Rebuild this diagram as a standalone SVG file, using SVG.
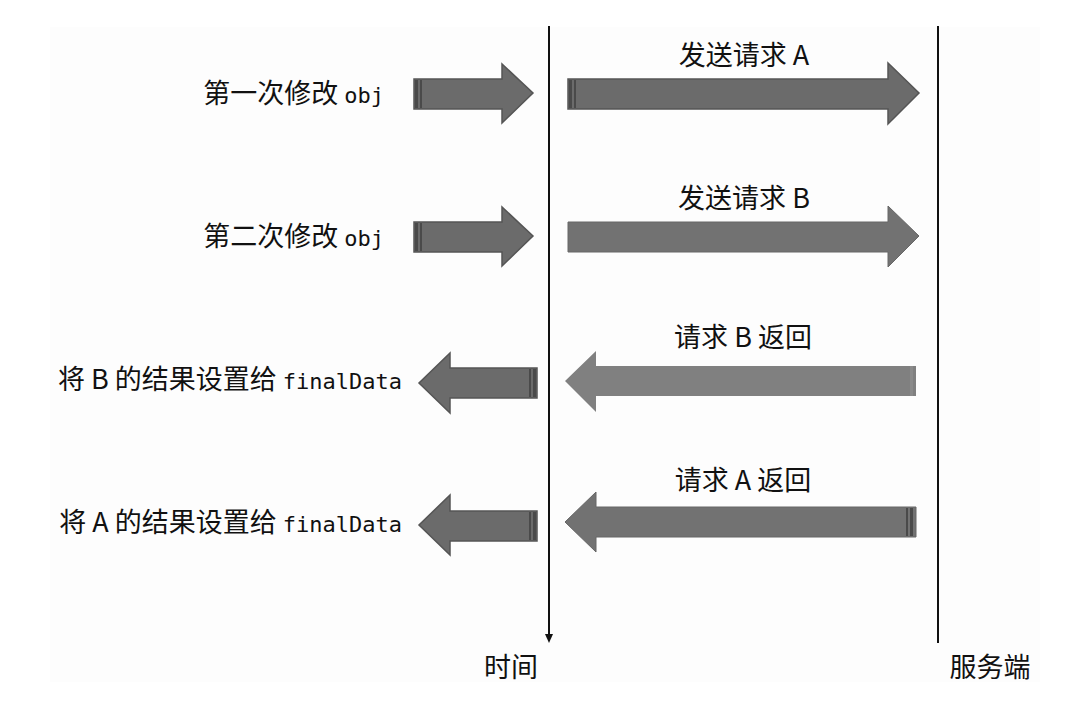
<svg xmlns="http://www.w3.org/2000/svg" width="1086" height="724" viewBox="0 0 1086 724">
<style>
.t{font-family:"Noto Sans CJK SC","Noto Sans",sans-serif;font-size:27px;fill:#111}
.m{font-family:"DejaVu Sans Mono","Liberation Mono",monospace;font-size:22px}
.ar{fill:#6b6b6b;stroke:#555;stroke-width:1.5}
.ar2{fill:#727272;stroke:#666;stroke-width:1}
.ar3{fill:#808080;stroke:none}
.ax{stroke:#111;stroke-width:2;fill:none}
.st{fill:#4a4a4a}
</style>
<rect x="0" y="0" width="1086" height="724" fill="#ffffff"/>
<rect x="50" y="27" width="990" height="655" fill="#fdfdfd"/>
<g id="axes">
  <line class="ax" x1="549" y1="26" x2="549" y2="636"/>
  <polygon points="545,634 553,634 549,643" fill="#111"/>
  <line class="ax" x1="938" y1="26" x2="938" y2="643"/>
  <text class="t" x="511" y="677" text-anchor="middle">时间</text>
  <text class="t" x="990" y="677" text-anchor="middle">服务端</text>
</g>
<g id="connectors">
  <g id="row1-left">
    <polygon class="ar" points="414,79 502,79 502,64 533,93 502,123 502,109 414,109"/>
    <rect class="st" x="415" y="80" width="3" height="28"/><rect class="st" x="420" y="80" width="2" height="28"/>
  </g>
  <g id="row1-right">
    <polygon class="ar" points="568,79 888,79 888,63 919,93 888,124 888,109 568,109"/>
    <rect class="st" x="569" y="80" width="3" height="28"/><rect class="st" x="574" y="80" width="2" height="28"/>
  </g>
  <g id="row2-left">
    <polygon class="ar" points="414,222 502,222 502,207 533,236 502,266 502,252 414,252"/>
    <rect class="st" x="415" y="223" width="3" height="28"/><rect class="st" x="420" y="223" width="2" height="28"/>
  </g>
  <g id="row2-right">
    <polygon class="ar2" points="568,222 888,222 888,206 919,236 888,267 888,252 568,252"/>
  </g>
  <g id="row3-left">
    <polygon class="ar" points="537,368 450,368 450,353 419,383 450,413 450,398 537,398"/>
    <rect class="st" x="529" y="369" width="2" height="28"/><rect class="st" x="533" y="369" width="3" height="28"/>
  </g>
  <g id="row3-right">
    <polygon class="ar3" points="916,366 596,366 596,351 565,381 596,412 596,396 916,396"/>
    <rect x="910" y="366" width="3" height="30" fill="#8a8a8a"/>
  </g>
  <g id="row4-left">
    <polygon class="ar" points="537,511 450,511 450,495 419,525 450,555 450,541 537,541"/>
    <rect class="st" x="529" y="512" width="2" height="28"/><rect class="st" x="533" y="512" width="3" height="28"/>
  </g>
  <g id="row4-right">
    <polygon class="ar2" points="916,507 596,507 596,492 565,522 596,552 596,537 916,537"/>
    <rect class="st" x="906" y="508" width="2" height="28"/><rect class="st" x="910" y="508" width="3" height="28"/>
  </g>
</g>
<g id="label-r1l"><text class="t" x="384" y="103" text-anchor="end">第一次修改 <tspan class="m">obj</tspan></text></g>
<g id="label-r1r"><text class="t" x="744" y="65" text-anchor="middle">发送请求 A</text></g>
<g id="label-r2l"><text class="t" x="384" y="246" text-anchor="end">第二次修改 <tspan class="m">obj</tspan></text></g>
<g id="label-r2r"><text class="t" x="744" y="208" text-anchor="middle">发送请求 B</text></g>
<g id="label-r3l"><text class="t" x="402" y="389" text-anchor="end">将 B 的结果设置给 <tspan class="m">finalData</tspan></text></g>
<g id="label-r3r"><text class="t" x="743" y="347" text-anchor="middle">请求 B 返回</text></g>
<g id="label-r4l"><text class="t" x="402" y="532" text-anchor="end">将 A 的结果设置给 <tspan class="m">finalData</tspan></text></g>
<g id="label-r4r"><text class="t" x="743" y="490" text-anchor="middle">请求 A 返回</text></g>
</svg>
